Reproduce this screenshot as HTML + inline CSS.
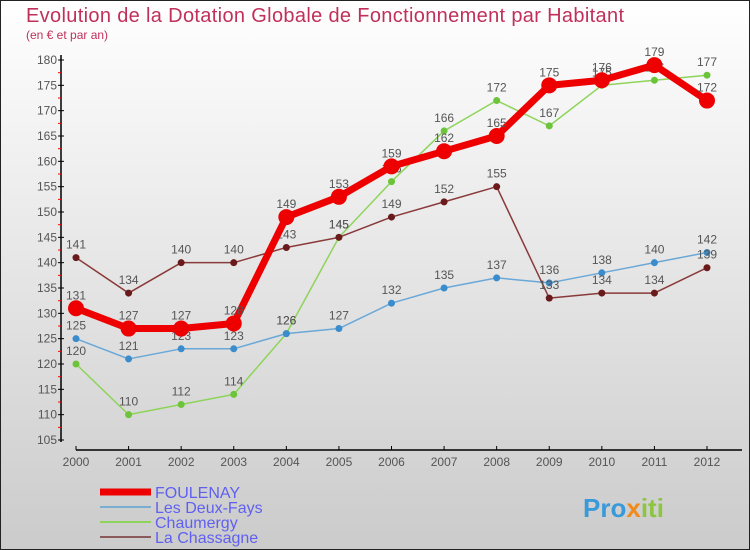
<!DOCTYPE html>
<html><head><meta charset="utf-8"><style>
body{margin:0;width:750px;height:550px;overflow:hidden}
svg{display:block;font-family:"Liberation Sans",sans-serif}
</style></head><body>
<svg id="c" width="750" height="550">
<defs><linearGradient id="bg" x1="0" y1="0" x2="0" y2="1"><stop offset="0" stop-color="#ffffff"/><stop offset="1" stop-color="#cbcbcb"/></linearGradient></defs>
<rect x="0.5" y="0.5" width="749" height="549" fill="url(#bg)" stroke="#222"/>
<text x="26" y="22" font-size="20" fill="#c0305a" textLength="598">Evolution de la Dotation Globale de Fonctionnement par Habitant</text>
<text x="26" y="39" font-size="12" fill="#c0305a">(en € et par an)</text>
<g id="axes"></g><g id="series"></g><g id="legend"></g>
<text x="583" y="517" font-size="26" font-weight="bold" fill="#3a9ad9">Pro<tspan fill="#f08a1c">x</tspan><tspan fill="#8cc63f">iti</tspan></text>
</svg>
<script>
const years=[2000,2001,2002,2003,2004,2005,2006,2007,2008,2009,2010,2011,2012];
const yTicks=[105,110,115,120,125,130,135,140,145,150,155,160,165,170,175,180];
const foulenay=[131,127,127,128,149,153,159,162,165,175,176,179,172];
const deuxFays=[125,121,123,123,126,127,132,135,137,136,138,140,142];
const chaumergy=[120,110,112,114,126,145,156,166,172,167,175,176,177];
const chassagne=[141,134,140,140,143,145,149,152,155,133,134,134,139];
const NS="http://www.w3.org/2000/svg";
const X=i=>76+i*(707-76)/12;
const Y=v=>60+(180-v)*(380/75);
function mk(t,a,p){const e=document.createElementNS(NS,t);for(const k in a)e.setAttribute(k,a[k]);p.appendChild(e);return e;}
const ax=document.getElementById('axes');
let yl=mk('line',{x1:61,y1:55,x2:61,y2:442,stroke:'#000','stroke-width':1.5},ax);


yTicks.forEach(v=>{
 mk('line',{x1:58,y1:Y(v),x2:64,y2:Y(v),stroke:'#000'},ax);
 if(v>105)mk('line',{x1:58,y1:Y(v)+12.7,x2:61,y2:Y(v)+12.7,stroke:'red'},ax);
 const t=mk('text',{x:57,y:Y(v)+4,'font-size':12,fill:'#555','text-anchor':'end'},ax);t.textContent=v;
 
 
});
let xl=mk('line',{x1:76,y1:450,x2:742,y2:450,stroke:'#000','stroke-width':1.5},ax);


years.forEach((y,i)=>{
 mk('line',{x1:X(i),y1:446,x2:X(i),y2:450,stroke:'#000'},ax);
 const t=mk('text',{x:X(i),y:466,'font-size':12,fill:'#555','text-anchor':'middle'},ax);t.textContent=y;
 
 
});
const sg=document.getElementById('series');
const defs=[[chaumergy,'#8ed45a','#6cc43a',1.5,3.5,'chaumergy'],[deuxFays,'#6aa8d8','#3a8ccc',1.5,3.5,'les-deux-fays'],[chassagne,'#8a3a3a','#6a1a1a',1.5,3.5,'la-chassagne'],[foulenay,'#ee0000','#ee0000',7,8,'foulenay']];
defs.forEach(([d,lc,pc,w,r,n])=>{
 const g=mk('g',{},sg);
 
 
 const p=mk('polyline',{points:d.map((v,i)=>X(i)+','+Y(v)).join(' '),fill:'none',stroke:lc,'stroke-width':w,'stroke-linejoin':'round'},g);
 
 
 d.forEach((v,i)=>{
  const c=mk('circle',{cx:X(i),cy:Y(v),r:r,fill:pc},g);
  
  
  const t=mk('text',{x:X(i),y:Y(v)-9,'font-size':12,fill:'#555','text-anchor':'middle'},g);t.textContent=v;
  
  
 });
});
const lg=document.getElementById('legend');
[['FOULENAY','#ee0000',7],['Les Deux-Fays','#7aaed0',2],['Chaumergy','#8ed45a',2],['La Chassagne','#8a5a5a',2]].forEach(([n,c,w],i)=>{
 const y=492+i*15;
 const g=mk('g',{},lg);
 
 
 mk('line',{x1:100,y1:y,x2:151,y2:y,stroke:c,'stroke-width':w},g);
 const t=mk('text',{x:155,y:y+6,'font-size':16,fill:'#6060f0'},g);t.textContent=n;
});
</script>
</body></html>
